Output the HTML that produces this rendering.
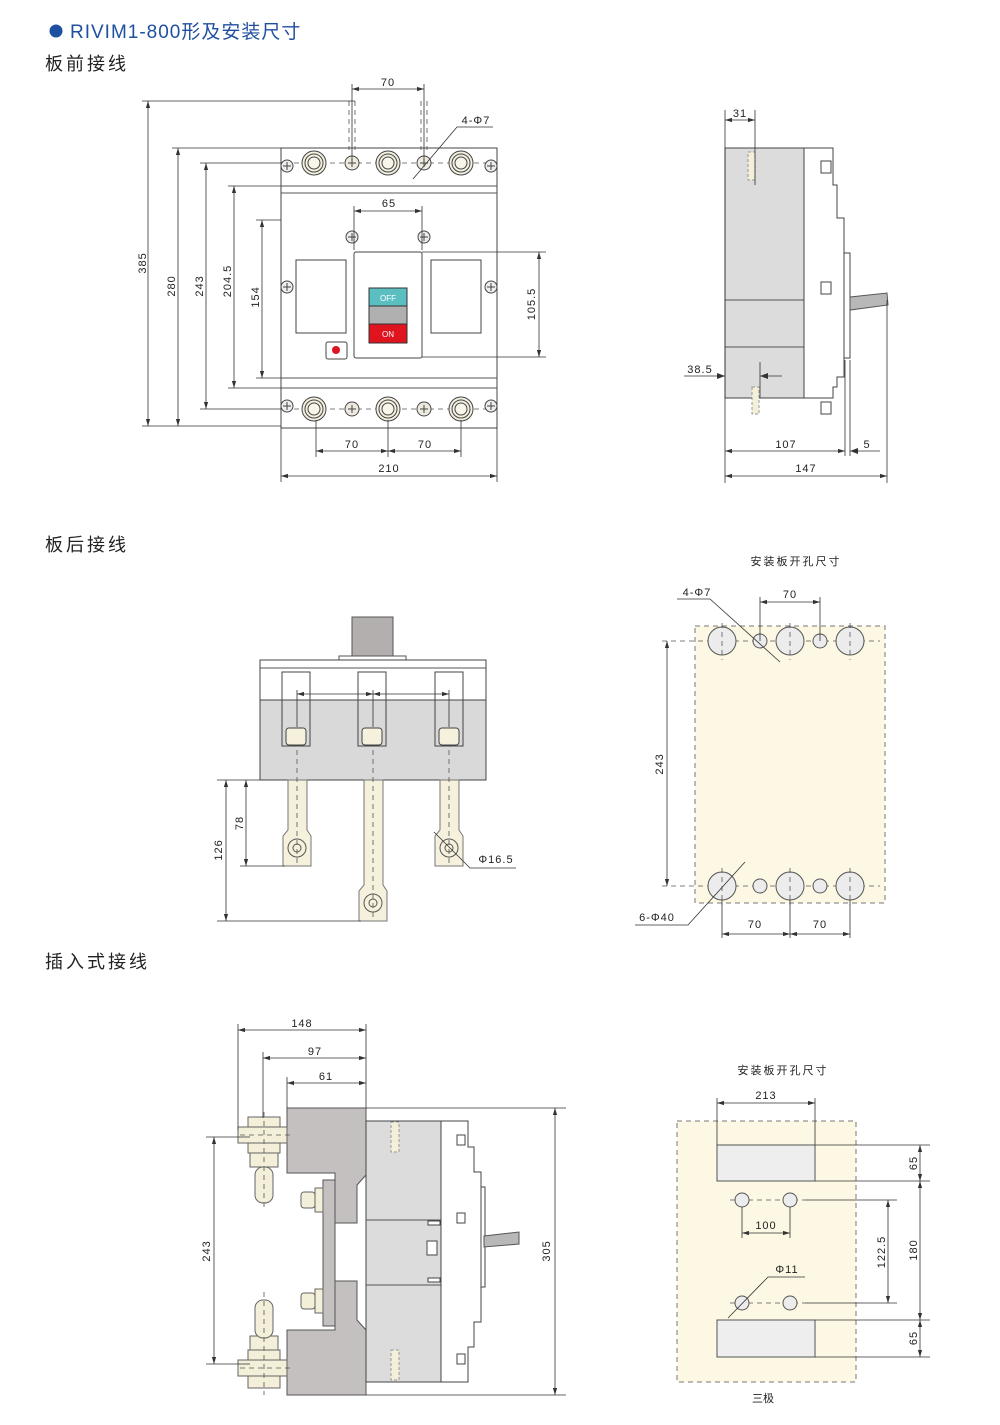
<!DOCTYPE html>
<html><head><meta charset="utf-8"><style>
html,body{margin:0;padding:0;background:#fff;}
svg{display:block;}
text{font-family:"Liberation Sans","Noto Sans CJK SC",sans-serif;fill:#222;}
.d{font-size:11px;letter-spacing:1px;text-anchor:middle;}
.h{font-size:18px;letter-spacing:3px;}
.l{stroke:#333;stroke-width:0.8;fill:none;}
.a{stroke:#333;stroke-width:0.8;fill:none;marker-start:url(#m);marker-end:url(#m);}
.o{stroke:#555;stroke-width:1;}
.dash{stroke:#555;stroke-width:0.8;stroke-dasharray:5 4;fill:none;}
</style></head><body>
<svg width="1000" height="1425" viewBox="0 0 1000 1425" xmlns="http://www.w3.org/2000/svg">
<defs>
<marker id="m" viewBox="0 0 10 10" refX="10" refY="5" markerWidth="7" markerHeight="7" orient="auto-start-reverse" markerUnits="userSpaceOnUse"><path d="M0,2 L10,5 L0,8z" fill="#333"/></marker>
<g id="term"><circle r="12" fill="#f3f0e0" stroke="#444"/><circle r="9" fill="none" stroke="#444"/><circle r="6" fill="#f8f6ea" stroke="#444"/></g>
<g id="sm"><circle r="7" fill="#eeeae0" stroke="#444"/><path d="M-4,0h8M0,-4v8" stroke="#444"/></g>
<g id="scr"><circle r="6" fill="#eee" stroke="#444"/><path d="M-4,0h8M0,-4v8" stroke="#444"/></g>
</defs>

<!-- headings -->
<circle cx="56" cy="31" r="6.5" fill="#1f4fa0"/>
<text x="70" y="38" font-size="19" letter-spacing="1" style="fill:#1f4fa0">RIVIM1-800形及安装尺寸</text>
<text class="h" x="45" y="70">板前接线</text>
<text class="h" x="45" y="551">板后接线</text>
<text class="h" x="45" y="968">插入式接线</text>

<!-- ===== FRONT VIEW ===== -->
<rect x="281" y="148" width="216" height="280" fill="#fff" stroke="#444"/>
<path class="o" d="M281,186H497M281,193H497M281,378H497M281,388H497" fill="none"/>
<line class="dash" x1="285" y1="163" x2="495" y2="163"/>
<line class="dash" x1="285" y1="409" x2="495" y2="409"/>
<use href="#term" x="314" y="163"/><use href="#term" x="388" y="163"/><use href="#term" x="461" y="163"/>
<use href="#term" x="314" y="409"/><use href="#term" x="388" y="409"/><use href="#term" x="461" y="409"/>
<use href="#sm" x="352" y="163"/><use href="#sm" x="424" y="163"/><use href="#sm" x="352" y="409"/><use href="#sm" x="424" y="409"/>
<use href="#scr" x="287" y="166"/><use href="#scr" x="491" y="166"/><use href="#scr" x="287" y="406"/><use href="#scr" x="491" y="406"/>
<use href="#scr" x="287" y="287"/><use href="#scr" x="491" y="287"/><use href="#scr" x="352" y="237"/><use href="#scr" x="424" y="237"/>
<rect x="296" y="260" width="50" height="73" fill="#fff" stroke="#444"/>
<rect x="431" y="260" width="50" height="73" fill="#fff" stroke="#444"/>
<rect x="354" y="252" width="68" height="106" rx="2" fill="#fff" stroke="#444"/>
<rect x="369" y="288" width="38" height="18" fill="#5bbfc2" stroke="#333"/>
<rect x="369" y="306" width="38" height="18" fill="#b0b0b0" stroke="#333"/>
<rect x="369" y="324" width="38" height="19" fill="#e0141e" stroke="#333"/>
<text x="388" y="301" font-size="8" text-anchor="middle" style="fill:#fff">OFF</text>
<text x="388" y="337" font-size="8" text-anchor="middle" style="fill:#fff">ON</text>
<rect x="326" y="342" width="21" height="17" rx="2" fill="#fff" stroke="#444"/>
<circle cx="336" cy="350" r="4" fill="#e0141e"/>
<!-- top dims -->
<path class="l" d="M352,84V160M424,84V160"/>
<path class="dash" d="M349,101V150M355,101V150M421,101V150M427,101V150"/>
<line class="a" x1="352" y1="89" x2="424" y2="89"/><text class="d" x="388" y="86">70</text>
<path class="l" d="M413,179L457,127H493"/><text class="d" x="476" y="124">4-Φ7</text>
<path class="l" d="M354,206V250M422,206V250"/>
<line class="a" x1="354" y1="211" x2="422" y2="211"/><text class="d" x="389" y="207">65</text>
<!-- left dims -->
<path class="l" d="M142,101H355M172,148H281M200,163H281M228,186H281M256,220H281M142,426H281M172,426H281M200,409H281M228,388H281M256,378H281"/>
<line class="a" x1="148" y1="101" x2="148" y2="426"/>
<line class="a" x1="178" y1="148" x2="178" y2="426"/>
<line class="a" x1="206" y1="163" x2="206" y2="409"/>
<line class="a" x1="234" y1="186" x2="234" y2="388"/>
<line class="a" x1="262" y1="220" x2="262" y2="378"/>
<text class="d" transform="translate(146,263) rotate(-90)">385</text>
<text class="d" transform="translate(175,286) rotate(-90)">280</text>
<text class="d" transform="translate(203,286) rotate(-90)">243</text>
<text class="d" transform="translate(231,281) rotate(-90)">204.5</text>
<text class="d" transform="translate(259,297) rotate(-90)">154</text>
<path class="l" d="M422,252H546M422,357H546"/>
<line class="a" x1="539" y1="252" x2="539" y2="357"/>
<text class="d" transform="translate(535,304) rotate(-90)">105.5</text>
<!-- bottom dims -->
<path class="l" d="M316,420V457M388,420V457M461,420V457M281,428V482M497,428V482"/>
<line class="a" x1="316" y1="451" x2="388" y2="451"/><line class="a" x1="388" y1="451" x2="461" y2="451"/>
<text class="d" x="352" y="448">70</text><text class="d" x="425" y="448">70</text>
<line class="a" x1="281" y1="476" x2="497" y2="476"/><text class="d" x="389" y="472">210</text>

<!-- ===== SIDE VIEW ===== -->
<rect x="725" y="148" width="79" height="250" fill="#dcdcdc" stroke="#444"/>
<path class="o" d="M725,300H804M725,347H804"/>
<path d="M804,148H833V185H837V218H844V377H837V387H833V398H804Z" fill="#fff" stroke="#444"/>
<rect x="844" y="253" width="6" height="105" fill="#fff" stroke="#444"/>
<path d="M850,297L887,293L888,305L850,310Z" fill="#b8b8b8" stroke="#555"/>
<rect x="821" y="161" width="10" height="12" fill="#fff" stroke="#444"/>
<rect x="821" y="282" width="10" height="12" fill="#fff" stroke="#444"/>
<rect x="821" y="402" width="10" height="12" fill="#fff" stroke="#444"/>
<rect x="748" y="152" width="7" height="28" fill="#f3efd8" stroke="#999" stroke-dasharray="3 2"/>
<rect x="752" y="392" width="7" height="27" fill="#f3efd8" stroke="#999" stroke-dasharray="3 2" transform="translate(0,-5)"/>
<path class="l" d="M725,110V483M755,110V185M845,360V456M850,360V456M887,300V483M760,362V398"/>
<line class="a" x1="725" y1="120" x2="755" y2="120"/><text class="d" x="740" y="117">31</text>
<path class="l" d="M684,376H725"/><line x1="760" y1="376" x2="782" y2="376" class="l"/>
<path d="M725,376l-8,-3v6z M760,376l8,-3v6z" fill="#333"/>
<text class="d" x="700" y="373">38.5</text>
<line class="a" x1="725" y1="451" x2="845" y2="451"/><text class="d" x="786" y="448">107</text>
<path class="l" d="M850,451H880"/><path d="M850,451l8,-3v6z" fill="#333"/><text class="d" x="867" y="448">5</text>
<line class="a" x1="725" y1="476" x2="887" y2="476"/><text class="d" x="806" y="472">147</text>

<!-- ===== REAR VIEW ===== -->
<rect x="352" y="617" width="41" height="42" fill="#b3afaf" stroke="#555"/>
<rect x="339" y="656" width="67" height="4" fill="#fff" stroke="#555"/>
<rect x="260" y="660" width="226" height="120" fill="#fff" stroke="#444"/>
<rect x="260" y="700" width="226" height="80" fill="#d9d9d9" stroke="#444"/>
<line class="o" x1="260" y1="668" x2="486" y2="668"/>
<g fill="#fff" stroke="#444">
<path d="M282,746V672H310V746" fill="none"/><path d="M358,746V672H386V746" fill="none"/><path d="M435,746V672H463V746" fill="none"/>
<rect x="282" y="700" width="28" height="46" fill="#d9d9d9"/><rect x="358" y="700" width="28" height="46" fill="#d9d9d9"/><rect x="435" y="700" width="28" height="46" fill="#d9d9d9"/>
<rect x="286" y="728" width="20" height="17" rx="3" fill="#f5f1dc"/><rect x="362" y="728" width="20" height="17" rx="3" fill="#f5f1dc"/><rect x="439" y="728" width="20" height="17" rx="3" fill="#f5f1dc"/>
</g>
<path class="l" d="M297,690V727M373,690V727M449,690V727"/>
<line class="a" x1="297" y1="694" x2="373" y2="694"/><line class="a" x1="373" y1="694" x2="449" y2="694"/>
<g fill="#f5f1dc" stroke="#777">
<path d="M288,780H307V830L311,836V866H283V836L288,830Z"/>
<path d="M364,780H383V885L387,891V921H359V891L364,885Z"/>
<path d="M440,780H459V830L463,836V866H435V836L440,830Z"/>
</g>
<path class="dash" d="M297,750V866M373,750V921M449,750V866"/>
<g fill="none" stroke="#555"><circle cx="297" cy="848" r="9"/><circle cx="297" cy="848" r="4"/><circle cx="373" cy="903" r="9"/><circle cx="373" cy="903" r="4"/><circle cx="449" cy="848" r="9"/><circle cx="449" cy="848" r="4"/></g>
<path class="l" d="M217,780H260M240,866H285M217,921H361"/>
<line class="a" x1="246" y1="780" x2="246" y2="866"/><line class="a" x1="226" y1="780" x2="226" y2="921"/>
<text class="d" transform="translate(243,823) rotate(-90)">78</text>
<text class="d" transform="translate(222,850) rotate(-90)">126</text>
<path class="l" d="M434,832L470,868H516"/><text class="d" x="496" y="863">Φ16.5</text>

<!-- panel 2 -->
<text x="796" y="565" font-size="11" text-anchor="middle" letter-spacing="2">安装板开孔尺寸</text>
<rect x="695" y="626" width="190" height="277" fill="#fcf8e3" stroke="#777" stroke-dasharray="5 4"/>
<path class="dash" d="M662,641H880M662,886H880"/>
<g fill="#ececec" stroke="#555"><circle cx="722" cy="641" r="14"/><circle cx="790" cy="641" r="14"/><circle cx="850" cy="641" r="14"/><circle cx="722" cy="886" r="14"/><circle cx="790" cy="886" r="14"/><circle cx="850" cy="886" r="14"/><circle cx="760" cy="641" r="7"/><circle cx="820" cy="641" r="7"/><circle cx="760" cy="886" r="7"/><circle cx="820" cy="886" r="7"/></g>
<path class="dash" d="M722,623V660M790,623V660M850,623V660M722,868V905M790,868V905M850,868V905"/>
<path class="l" d="M760,597V641M820,597V641M722,900V938M790,900V938M850,900V938"/>
<line class="a" x1="760" y1="602" x2="820" y2="602"/><text class="d" x="790" y="598">70</text>
<line class="a" x1="667" y1="641" x2="667" y2="886"/><text class="d" transform="translate(663,764) rotate(-90)">243</text>
<line class="a" x1="722" y1="934" x2="790" y2="934"/><line class="a" x1="790" y1="934" x2="850" y2="934"/>
<text class="d" x="755" y="928">70</text><text class="d" x="820" y="928">70</text>
<path class="l" d="M677,599H710L780,662"/><text class="d" x="697" y="596">4-Φ7</text>
<path class="l" d="M745,862L688,925H635"/><text class="d" x="657" y="921">6-Φ40</text>

<!-- ===== PLUG-IN VIEW ===== -->
<path d="M287,1108H366V1175L357,1185V1223H335V1173H287Z" fill="#c4c0c0" stroke="#555"/>
<path d="M287,1395H366V1330L357,1320V1281H335V1330H287Z" fill="#c4c0c0" stroke="#555"/>
<rect x="323" y="1180" width="12" height="146" fill="#c4c0c0" stroke="#555"/>
<g fill="#f3efd8" stroke="#666">
<rect x="248" y="1117" width="32" height="10"/><rect x="238" y="1127" width="49" height="16"/><rect x="248" y="1143" width="32" height="10"/><rect x="250" y="1153" width="28" height="14"/><rect x="255" y="1167" width="18" height="36" rx="8"/>
<rect x="248" y="1376" width="32" height="12"/><rect x="238" y="1360" width="49" height="16"/><rect x="248" y="1350" width="32" height="10"/><rect x="250" y="1336" width="28" height="14"/><rect x="255" y="1300" width="18" height="38" rx="8"/>
</g>
<g fill="#f3efd8" stroke="#666"><rect x="301" y="1192" width="14" height="16" rx="3"/><rect x="315" y="1188" width="8" height="24"/><rect x="301" y="1293" width="14" height="16" rx="3"/><rect x="315" y="1289" width="8" height="24"/></g>
<path class="dash" d="M264,1112V1210M264,1292V1395M240,1135H290M240,1368H290"/>
<rect x="366" y="1121" width="75" height="261" fill="#dcdcdc" stroke="#444"/>
<path class="o" d="M366,1220H441M366,1285H441"/>
<path d="M441,1121H468V1147H474V1172H481V1322H474V1347H468V1382H441Z" fill="#fff" stroke="#444"/>
<rect x="481" y="1187" width="4" height="100" fill="#fff" stroke="#444"/>
<path d="M484,1236L519,1232L519,1244L484,1247Z" fill="#b8b8b8" stroke="#555"/>
<g fill="#fff" stroke="#444"><rect x="457" y="1135" width="8" height="10"/><rect x="457" y="1213" width="8" height="10"/><rect x="457" y="1354" width="8" height="10"/><rect x="427" y="1241" width="10" height="14"/><rect x="428" y="1221" width="12" height="4"/><rect x="428" y="1278" width="12" height="4"/></g>
<rect x="391" y="1122" width="8" height="30" fill="#f3efd8" stroke="#999" stroke-dasharray="3 2"/>
<rect x="391" y="1350" width="8" height="30" fill="#f3efd8" stroke="#999" stroke-dasharray="3 2"/>
<path class="l" d="M238,1024V1130M263,1052V1118M287,1077V1108M366,1024V1108M366,1108H566M366,1395H566M206,1137H250M206,1364H250"/>
<line class="a" x1="238" y1="1030" x2="366" y2="1030"/><text class="d" x="302" y="1027">148</text>
<line class="a" x1="263" y1="1058" x2="366" y2="1058"/><text class="d" x="315" y="1055">97</text>
<line class="a" x1="287" y1="1083" x2="366" y2="1083"/><text class="d" x="326" y="1080">61</text>
<line class="a" x1="214" y1="1137" x2="214" y2="1364"/><text class="d" transform="translate(210,1251) rotate(-90)">243</text>
<line class="a" x1="555" y1="1108" x2="555" y2="1395"/><text class="d" transform="translate(550,1251) rotate(-90)">305</text>

<!-- panel 3 -->
<text x="783" y="1074" font-size="11" text-anchor="middle" letter-spacing="2">安装板开孔尺寸</text>
<rect x="677" y="1121" width="179" height="261" fill="#fcf8e3" stroke="#777" stroke-dasharray="5 4"/>
<rect x="717" y="1145" width="98" height="36" fill="#eeeeee" stroke="#555"/>
<rect x="717" y="1320" width="98" height="37" fill="#eeeeee" stroke="#555"/>
<path class="dash" d="M730,1200H805M730,1303H805"/>
<g fill="#ececec" stroke="#555"><circle cx="742" cy="1200" r="7"/><circle cx="790" cy="1200" r="7"/><circle cx="742" cy="1303" r="7"/><circle cx="790" cy="1303" r="7"/></g>
<path class="l" d="M717,1098V1145M815,1098V1145M742,1207V1238M790,1207V1238M805,1200H897M805,1303H897M815,1145H930M815,1181H930M815,1320H930M815,1357H930"/>
<line class="a" x1="717" y1="1103" x2="815" y2="1103"/><text class="d" x="766" y="1099">213</text>
<line class="a" x1="742" y1="1233" x2="790" y2="1233"/><text class="d" x="766" y="1229">100</text>
<line class="a" x1="888" y1="1200" x2="888" y2="1303"/><text class="d" transform="translate(885,1252) rotate(-90)">122.5</text>
<line class="a" x1="920" y1="1181" x2="920" y2="1320"/><text class="d" transform="translate(917,1250) rotate(-90)">180</text>
<line class="a" x1="920" y1="1145" x2="920" y2="1181"/><text class="d" transform="translate(917,1163) rotate(-90)">65</text>
<line class="a" x1="920" y1="1320" x2="920" y2="1357"/><text class="d" transform="translate(917,1338) rotate(-90)">65</text>
<path class="l" d="M728,1318L768,1277H805"/><text class="d" x="787" y="1273">Φ11</text>
<text x="763" y="1402" font-size="11" text-anchor="middle">三极</text>
</svg>
</body></html>
